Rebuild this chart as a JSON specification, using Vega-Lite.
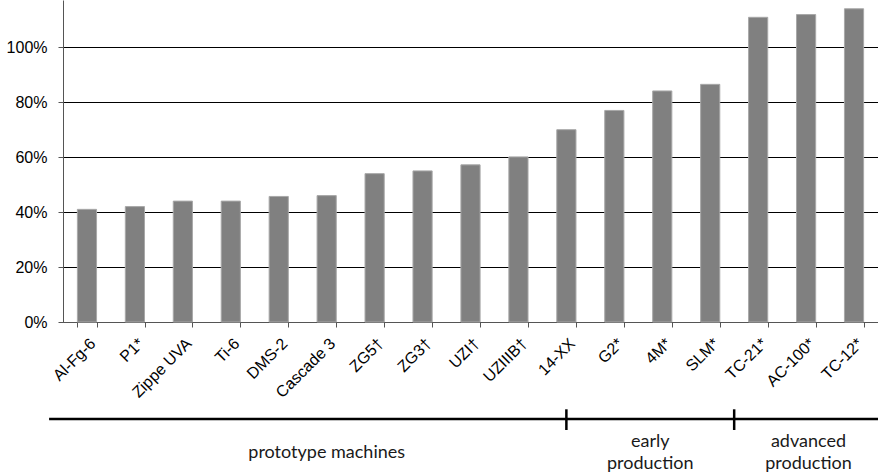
{
  "$schema": "https://vega.github.io/schema/vega-lite/v6.json",
  "autosize": {"type": "none"},
  "width": 815,
  "height": 322,
  "padding": {"left": 63, "top": 0, "right": 0, "bottom": 151},
  "background": "white",
  "config": {
    "view": {"stroke": null},
    "font": "Liberation Sans",
    "axis": {"labelFont": "Liberation Sans", "labelFontSize": 16, "labelColor": "#000"},
    "axisY": {"labelPadding": 11},
    "text": {"font": "Lato"}
  },
  "datasets": {
    "bars": [
      {"machine": "Al-Fg-6", "value": 0.41},
      {"machine": "P1*", "value": 0.42},
      {"machine": "Zippe UVA", "value": 0.44},
      {"machine": "Ti-6", "value": 0.44},
      {"machine": "DMS-2", "value": 0.457},
      {"machine": "Cascade 3", "value": 0.46},
      {"machine": "ZG5†", "value": 0.54},
      {"machine": "ZG3†", "value": 0.55},
      {"machine": "UZI†", "value": 0.572},
      {"machine": "UZIIIB†", "value": 0.601},
      {"machine": "14-XX", "value": 0.70},
      {"machine": "G2*", "value": 0.77},
      {"machine": "4M*", "value": 0.841},
      {"machine": "SLM*", "value": 0.865},
      {"machine": "TC-21*", "value": 1.109},
      {"machine": "AC-100*", "value": 1.119},
      {"machine": "TC-12*", "value": 1.14}
    ],
    "bracket": [{"x0": -0.29, "x1": 17.5, "y": -0.3012}],
    "ticks": [{"x": 10.5, "y0": -0.2711, "y1": -0.3354}, {"x": 14, "y0": -0.2711, "y1": -0.3354}],
    "groups": [
      {"x": 5.5, "y": -0.4068, "label": "prototype machines"},
      {"x": 12.25, "y": -0.3717, "label": "early\nproduction"},
      {"x": 15.55, "y": -0.3717, "label": "advanced\nproduction"}
    ]
  },
  "layer": [
    {
      "data": {"name": "bars"},
      "mark": {"type": "bar", "color": "#808080", "stroke": "#a8a8a8", "strokeWidth": 1},
      "encoding": {
        "x": {
          "field": "machine", "type": "nominal", "sort": null,
          "scale": {"paddingInner": 0.6, "paddingOuter": 0.3},
          "axis": {"title": null, "labelAngle": -45, "labelFont": "Liberation Sans", "labelFontSize": 16, "labelColor": "#000",
                   "domainColor": "#555", "tickColor": "#555", "tickBand": "extent", "tickSize": 5,
                   "labelPadding": 8, "grid": false}
        },
        "y": {
          "field": "value", "type": "quantitative",
          "scale": {"domain": [0, 1.172], "nice": false},
          "axis": {"title": null, "format": ".0%", "values": [0, 0.2, 0.4, 0.6, 0.8, 1.0],
                   "labelFont": "Liberation Sans", "labelFontSize": 16, "labelColor": "#000", "domainColor": "#555", "tickColor": "#555",
                   "tickSize": 5, "labelPadding": 11, "grid": true, "gridColor": "#000", "gridWidth": 1, "gridOpacity": 1}
        }
      }
    },
    {
      "layer": [
        {
          "data": {"name": "bracket"},
          "mark": {"type": "rule", "strokeWidth": 2.5, "color": "#000"},
          "encoding": {
            "x": {"field": "x0", "type": "quantitative", "scale": {"domain": [0, 17], "nice": false, "zero": false}, "axis": null},
            "x2": {"field": "x1"},
            "y": {"field": "y", "type": "quantitative", "scale": {"domain": [0, 1], "nice": false}, "axis": null}
          }
        },
        {
          "data": {"name": "ticks"},
          "mark": {"type": "rule", "strokeWidth": 2.5, "color": "#000"},
          "encoding": {
            "x": {"field": "x", "type": "quantitative", "scale": {"domain": [0, 17], "nice": false, "zero": false}, "axis": null},
            "y": {"field": "y0", "type": "quantitative", "scale": {"domain": [0, 1], "nice": false}, "axis": null},
            "y2": {"field": "y1"}
          }
        },
        {
          "data": {"name": "groups"},
          "mark": {"type": "text", "font": "Lato", "fontSize": 18, "color": "#1a1a1a", "baseline": "middle", "align": "center", "lineBreak": "\n", "lineHeight": 22},
          "encoding": {
            "x": {"field": "x", "type": "quantitative", "scale": {"domain": [0, 17], "nice": false, "zero": false}, "axis": null},
            "y": {"field": "y", "type": "quantitative", "scale": {"domain": [0, 1], "nice": false}, "axis": null},
            "text": {"field": "label"}
          }
        }
      ]
    }
  ],
  "resolve": {"scale": {"x": "independent", "y": "independent"}}
}
